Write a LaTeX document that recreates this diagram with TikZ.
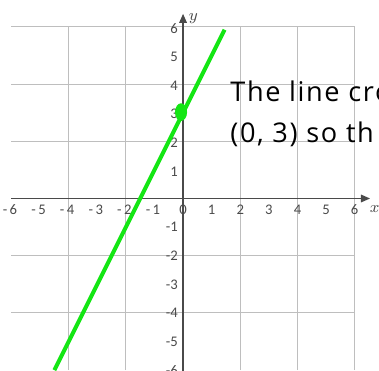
\documentclass[tikz,border=0pt]{standalone}
\usepackage{fontspec}
\newfontfamily\notefont[LetterSpace=6]{Open Sans}
\newfontfamily\tickfont{Carlito}
\usetikzlibrary{arrows.meta}
\definecolor{gridGrey}{HTML}{BEBEBE}
\definecolor{axisGrey}{HTML}{4A4A4A}
\definecolor{lineGreen}{HTML}{14E614}
\tikzset{
  % thin grid, darker axes, one bright line for the graph
  gridline/.style  = {gridGrey, line width=0.5pt},
  axisline/.style  = {-{Triangle[length=1.6mm, width=1.3mm]}, line width=0.9pt, axisGrey},
  graphline/.style = {lineGreen, line width=2pt},
  ticklbl/.style   = {font=\tickfont\fontsize{7.3}{8}\selectfont, text=axisGrey, inner sep=0pt},
  axislbl/.style   = {font=\footnotesize, text=axisGrey, inner sep=0pt},
  notetext/.style  = {font=\notefont\fontsize{13.5}{16}\selectfont, inner sep=0pt, anchor=base west},
}

\begin{document}
\begin{tikzpicture}[x=0.5cm,y=0.5cm]
  \useasboundingbox (-6.40,-6.0) rectangle (6.85,6.94);
  \clip (-6.40,-6.0) rectangle (6.85,6.94);
  % --- grid and axes ------------------------------------------------------
  \draw[gridline] (-6,-6) grid (6,6);
  \coordinate (xstart) at (-6,0);
  \coordinate (xend)   at (6.54,0);
  \coordinate (ystart) at (0,-6.2);
  \coordinate (yend)   at (0,6.46);
  \draw[axisline] (xstart) -- (xend);
  \draw[axisline] (ystart) -- (yend);
  \node[axislbl] (xlbl) at (6.70,-0.38) {$x$};
  \node[axislbl] (ylbl) at (0.36,6.30) {$y$};
  % tick labels: minus signs hang to the left of the digit
  \foreach \i in {1,...,6}
    \node[ticklbl] (xm\i) at (-\i+0.07,-0.40) {\llap{-\,}\i};
  \foreach \i in {0,...,6}
    \node[ticklbl] (xp\i) at (\i,-0.40) {\i};
  \foreach \i in {1,...,6}
    \node[ticklbl, anchor=east] (yp\i) at (-0.17,\i-0.05) {\i};
  \foreach \i in {1,...,6}
    \node[ticklbl, anchor=east] (ym\i) at (-0.17,-\i) {-\i};
  % --- the line y = 2x + 3 ------------------------------------------------
  \draw[graphline, domain=-4.5:1.45] plot (\x,{2*\x+3});
  \fill[lineGreen] (-0.07,3.02) ellipse (0.21 and 0.31);
  % --- note, cut off at the right edge ------------------------------------
  \node[notetext] (note1) at (1.64,3.40) {The line cro};
  \node[notetext] (note2) at (1.64,1.96) {(0, 3) so th};
\end{tikzpicture}
\end{document}
